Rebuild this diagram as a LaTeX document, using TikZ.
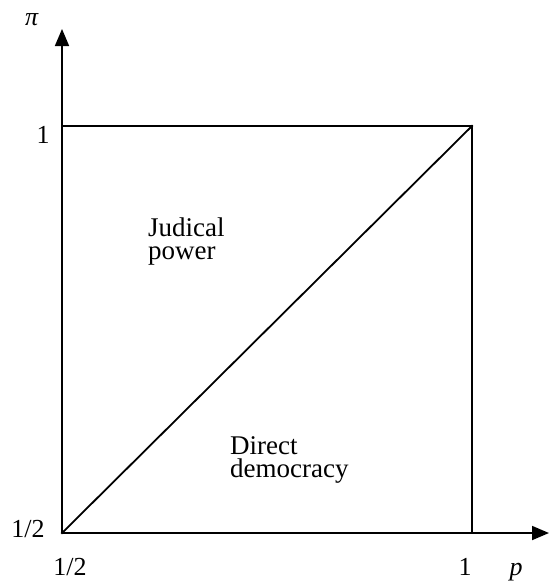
\documentclass[tikz,border=0pt]{standalone}
\usepackage{fontspec}
\setmainfont{Liberation Serif}
\usetikzlibrary{arrows.meta}
\begin{document}
\begin{tikzpicture}[x=1pt,y=-1pt,
  lbl/.style={inner sep=0pt,font=\fontsize{26}{22}\selectfont},
  txt/.style={inner sep=0pt,align=left,font=\fontsize{27}{23}\selectfont},
  edge/.style={line width=1.8pt,line cap=rect},
  axis/.style={line width=1.8pt,-{Triangle[length=17pt,width=14pt]}}]
\useasboundingbox (0,0) rectangle (552,581);
\coordinate (O) at (62,533);
\coordinate (TL) at (62,126);
\coordinate (TR) at (472,126);
\coordinate (BR) at (472,533);
\coordinate (ytip) at (62,29);
\coordinate (xtip) at (549,533);
\draw[axis] (O) -- (ytip);
\draw[axis] (O) -- (xtip);
\draw[edge] (TL) -- (TR) -- (BR);
\draw[edge] (O) -- (TR);
\node[lbl,anchor=base] (pi) at (32,25) {\textit{π}};
\node[lbl,anchor=base] (y1) at (43,143) {1};
\node[lbl,anchor=base] (yhalf) at (28,537) {1/2};
\node[lbl,anchor=base] (xhalf) at (70,575) {1/2};
\node[lbl,anchor=base] (x1) at (465,575) {1};
\node[lbl,anchor=base] (p) at (516,575) {\textit{p}};
\node[txt,anchor=base west] (judical) at (148,259) {Judical\\power};
\node[txt,anchor=base west] (direct) at (230,477) {Direct\\democracy};
\end{tikzpicture}
\end{document}
